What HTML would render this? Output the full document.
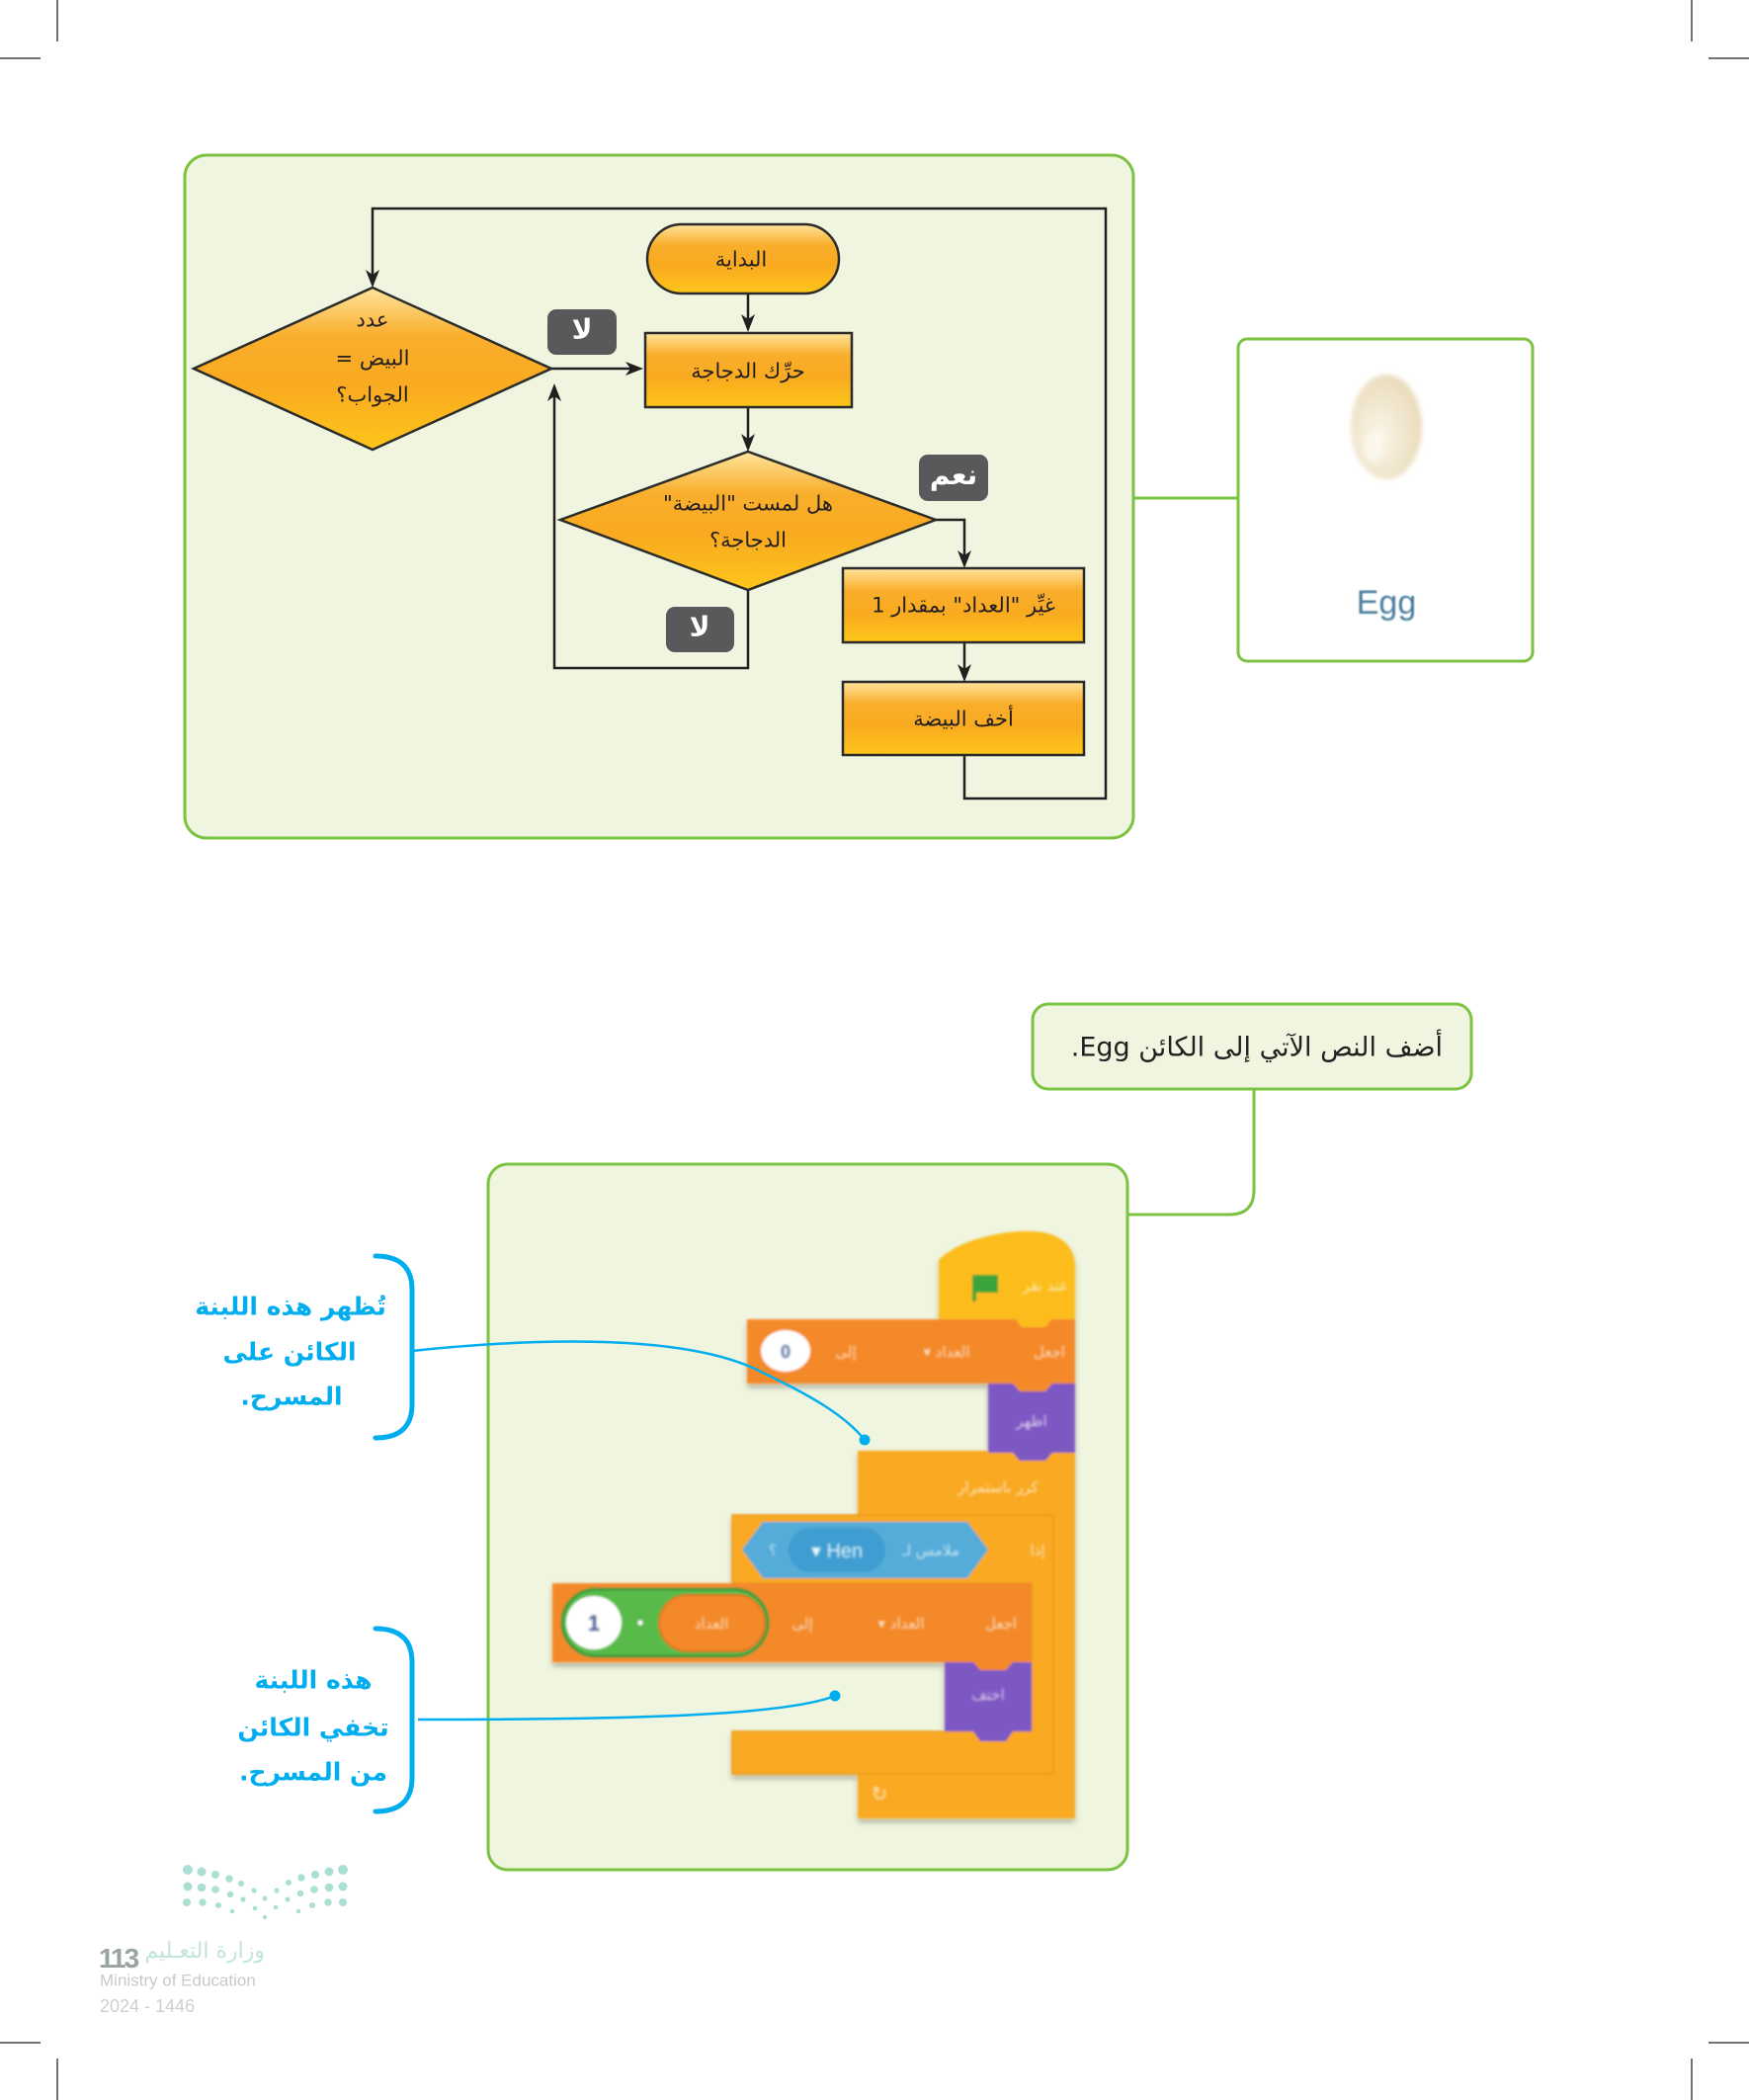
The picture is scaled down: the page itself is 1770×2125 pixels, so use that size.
<!DOCTYPE html>
<html lang="ar">
<head>
<meta charset="utf-8">
<style>
  html,body{margin:0;padding:0;background:#fff;}
  body{width:1770px;height:2125px;position:relative;overflow:hidden;}
  svg.bg{position:absolute;left:0;top:0;}
  .t{position:absolute;transform:translate(-50%,-50%);white-space:nowrap;line-height:1;direction:rtl;}
  .fc{font-family:"DejaVu Sans",sans-serif;font-size:21px;color:#231f20;}
  .bd{font-family:"DejaVu Sans",sans-serif;font-size:28px;font-weight:bold;color:#fff;}
  .bl{font-family:"DejaVu Sans",sans-serif;font-size:25px;font-weight:bold;color:#00aeef;}
</style>
</head>
<body>
<svg class="bg" width="1770" height="2125" viewBox="0 0 1770 2125" xmlns="http://www.w3.org/2000/svg">
  <defs>
    <linearGradient id="og" x1="0" y1="0" x2="0" y2="1">
      <stop offset="0" stop-color="#ffe49c"/>
      <stop offset="0.3" stop-color="#f9ae2c"/>
      <stop offset="0.6" stop-color="#f9aa20"/>
      <stop offset="1" stop-color="#fdc61a"/>
    </linearGradient>
    <radialGradient id="eg" cx="0.4" cy="0.6" r="0.6">
      <stop offset="0" stop-color="#fbf6ea"/>
      <stop offset="0.5" stop-color="#f3e9d3"/>
      <stop offset="1" stop-color="#eadcbc"/>
    </radialGradient>
    <filter id="blur2" x="-30%" y="-30%" width="160%" height="160%"><feGaussianBlur stdDeviation="2.5"/></filter>
    <filter id="blur1" x="-10%" y="-10%" width="120%" height="120%"><feGaussianBlur stdDeviation="1"/></filter>
    <filter id="blurT" x="-20%" y="-50%" width="140%" height="200%"><feGaussianBlur stdDeviation="1.3"/></filter>
    <filter id="sh" x="-5%" y="-10%" width="110%" height="130%">
      <feGaussianBlur in="SourceAlpha" stdDeviation="3"/>
      <feOffset dy="4"/>
      <feComponentTransfer><feFuncA type="linear" slope="0.28"/></feComponentTransfer>
      <feMerge><feMergeNode/><feMergeNode in="SourceGraphic"/></feMerge>
    </filter>
  </defs>

  <!-- crop marks -->
  <g stroke="#444" stroke-width="1.5">
    <line x1="58" y1="0" x2="58" y2="42"/>
    <line x1="0" y1="59" x2="41" y2="59"/>
    <line x1="1712" y1="0" x2="1712" y2="42"/>
    <line x1="1729" y1="59" x2="1770" y2="59"/>
    <line x1="0" y1="2067" x2="41" y2="2067"/>
    <line x1="58" y1="2083" x2="58" y2="2125"/>
    <line x1="1729" y1="2067" x2="1770" y2="2067"/>
    <line x1="1712" y1="2083" x2="1712" y2="2125"/>
  </g>

  <!-- top panel -->
  <rect x="187" y="157" width="960" height="691" rx="22" fill="#eff5df" stroke="#7cc243" stroke-width="3"/>
  <line x1="1147" y1="504" x2="1253" y2="504" stroke="#7cc243" stroke-width="3"/>
  <rect x="1253" y="343" width="298" height="326" rx="9" fill="#fff" stroke="#7cc243" stroke-width="3"/>
  <ellipse cx="1403" cy="432" rx="36" ry="53" fill="url(#eg)" filter="url(#blur2)"/>
  <ellipse cx="1390" cy="452" rx="10" ry="16" fill="#fdfaf2" opacity="0.7" filter="url(#blur2)"/>

  <!-- flowchart connectors -->
  <g fill="none" stroke="#231f20" stroke-width="2.5">
    <polyline points="976,764 976,808 1119,808 1119,211 377,211 377,279"/>
    <line x1="757" y1="297" x2="757" y2="325"/>
    <line x1="558" y1="373" x2="640" y2="373"/>
    <line x1="757" y1="412" x2="757" y2="446"/>
    <polyline points="947,526 976,526 976,564"/>
    <line x1="976" y1="650" x2="976" y2="679"/>
    <polyline points="757,597 757,676 561,676 561,400"/>
  </g>
  <g fill="#231f20">
    <polygon points="377,291 370,273 377,278 384,273"/>
    <polygon points="757,336 750,318 757,323 764,318"/>
    <polygon points="651,373 633,366 638,373 633,380"/>
    <polygon points="757,457 750,439 757,444 764,439"/>
    <polygon points="976,575 969,557 976,562 983,557"/>
    <polygon points="976,690 969,672 976,677 983,672"/>
    <polygon points="561,388 554,406 561,401 568,406"/>
  </g>

  <!-- flowchart shapes -->
  <g stroke="#2b2b2b" stroke-width="2.5" fill="url(#og)">
    <polygon points="196,373 377,291 558,373 377,455"/>
    <rect x="655" y="227" width="194" height="70" rx="35"/>
    <rect x="653" y="337" width="209" height="75"/>
    <polygon points="567,526 757,457 947,526 757,597"/>
    <rect x="853" y="575" width="244" height="75"/>
    <rect x="853" y="690" width="244" height="74"/>
  </g>

  <!-- badges -->
  <rect x="554" y="313" width="70" height="46" rx="9" fill="#58595b"/>
  <rect x="930" y="460" width="70" height="47" rx="9" fill="#58595b"/>
  <rect x="674" y="614" width="69" height="46" rx="9" fill="#58595b"/>

  <!-- lower callout -->
  <rect x="494" y="1178" width="647" height="714" rx="20" fill="#eff5df" stroke="#7cc243" stroke-width="3"/>
  <rect x="1045" y="1016" width="444" height="86" rx="16" fill="#eff5df" stroke="#7cc243" stroke-width="3"/>
  <path d="M1269,1102 L1269,1204 Q1269,1229 1244,1229 L1141,1229" fill="none" stroke="#7cc243" stroke-width="3"/>

  <!-- scratch blocks -->
  <g filter="url(#blur1)">
    <g filter="url(#sh)">
      <path d="M868,1468 L1088,1468 L1088,1840 L868,1840 L868,1795 L1066,1795 L1066,1533 L868,1533 Z" fill="#f9a923"/>
      <path d="M741,1533 L1066,1533 L1066,1795 L741,1795 L741,1752 L1044,1752 L1044,1602 L741,1602 Z" fill="#f9a923" stroke="#eb9a1c" stroke-width="1.5"/>
      <path d="M950,1338 L950,1275 C968,1256 1010,1245 1045,1246 C1072,1247 1088,1260 1088,1282 L1088,1338 Z" fill="#fcbd1c"/>
      <path d="M756,1335 L1028,1335 L1034,1343 L1058,1343 L1064,1335 L1088,1335 L1088,1400 L1065,1400 L1058,1408 L1032,1408 L1025,1400 L756,1400 Z" fill="#f4892b"/>
      <path d="M1028,1335 L1034,1343 L1058,1343 L1064,1335 Z" fill="#fcbd1c"/>
      <path d="M1000,1400 L1025,1400 L1032,1408 L1058,1408 L1065,1400 L1088,1400 L1088,1470 L1065,1470 L1058,1478 L1032,1478 L1025,1470 L1000,1470 Z" fill="#7d58c3"/>
      <path d="M559,1602 L1044,1602 L1044,1682 L1025,1682 L1018,1690 L992,1690 L985,1682 L559,1682 Z" fill="#f4892b"/>
      <path d="M956,1682 L985,1682 L992,1690 L1018,1690 L1025,1682 L1044,1682 L1044,1752 L1025,1752 L1018,1762 L992,1762 L985,1752 L956,1752 Z" fill="#7d58c3"/>
    </g>
    <polygon points="751,1568 772,1540 979,1540 1000,1568 979,1597 772,1597" fill="#55acd9"/>
    <rect x="798" y="1546" width="98" height="45" rx="22.5" fill="#3f9dd1"/>
    <rect x="569" y="1608" width="208" height="68" rx="34" fill="#58bb48" stroke="#3b983a" stroke-width="3"/>
    <ellipse cx="601" cy="1642" rx="28" ry="27" fill="#fff"/>
    <rect x="667" y="1614" width="107" height="57" rx="28.5" fill="#f4892b" stroke="#d9731c" stroke-width="2"/>
    <circle cx="648" cy="1642" r="2.5" fill="#fff"/>
    <ellipse cx="795" cy="1367" rx="25" ry="21" fill="#fff"/>
    <path d="M984,1290 L1010,1290 L1010,1308 L988,1308 L988,1317 L984,1317 Z" fill="#3aa33a"/>
  </g>
  <g filter="url(#blurT)">
    <g font-family="DejaVu Sans, sans-serif" fill="#fff" opacity="0.7" font-size="15" text-anchor="middle">
      <text x="1058" y="1306">عند نقر</text>
      <text x="1062" y="1373">اجعل</text>
      <text x="958" y="1373">▾ العداد</text>
      <text x="856" y="1373">إلى</text>
      <text x="1044" y="1443">اظهر</text>
      <text x="1010" y="1510">كرر باستمرار</text>
      <text x="1050" y="1574">إذا</text>
      <text x="942" y="1574">ملامس لـ</text>
      <text x="782" y="1574">؟</text>
      <text x="1013" y="1648">اجعل</text>
      <text x="912" y="1648">▾ العداد</text>
      <text x="812" y="1648">إلى</text>
      <text x="720" y="1648">العداد</text>
      <text x="1000" y="1720">اختف</text>
      <text x="890" y="1822" font-size="20">↻</text>
    </g>
    <text x="847" y="1576" font-family="Liberation Sans, sans-serif" font-size="20" fill="#fff" opacity="0.9" text-anchor="middle">▾ Hen</text>
    <text x="795" y="1374" font-family="Liberation Sans, sans-serif" font-size="18" font-weight="bold" fill="#5a6f9a" text-anchor="middle">0</text>
    <text x="601" y="1650" font-family="Liberation Sans, sans-serif" font-size="22" font-weight="bold" fill="#4a5f8a" text-anchor="middle">1</text>
  </g>

  <!-- blue annotation -->
  <g fill="none" stroke="#00aeef" stroke-width="5" stroke-linecap="round">
    <path d="M380,1271 Q417,1271 417,1305 L417,1421 Q417,1455 380,1455"/>
    <path d="M380,1648 Q417,1648 417,1682 L417,1799 Q417,1833 380,1833"/>
  </g>
  <g fill="none" stroke="#00aeef" stroke-width="2.5">
    <path d="M417,1367 C560,1352 700,1352 770,1388 C820,1412 855,1432 875,1457"/>
    <path d="M423,1740 C600,1740 790,1738 845,1716"/>
  </g>
  <circle cx="875" cy="1457" r="5.5" fill="#00aeef"/>
  <circle cx="845" cy="1716" r="5.5" fill="#00aeef"/>

  <!-- logo dots -->
  <g fill="#a9e0d3">
    <circle cx="190" cy="1892" r="5"/><circle cx="204" cy="1894" r="4.5"/><circle cx="218" cy="1897" r="4"/><circle cx="232" cy="1901" r="3.7"/><circle cx="244" cy="1906" r="3"/>
    <circle cx="347" cy="1892" r="5"/><circle cx="333" cy="1894" r="4.5"/><circle cx="319" cy="1897" r="4"/><circle cx="305" cy="1900" r="3.7"/><circle cx="292" cy="1905" r="3"/>
    <circle cx="190" cy="1909" r="4.5"/><circle cx="204" cy="1910" r="4.3"/><circle cx="218" cy="1912" r="3.8"/><circle cx="233" cy="1917" r="3.2"/><circle cx="257" cy="1913" r="2.6"/>
    <circle cx="347" cy="1909" r="4.5"/><circle cx="333" cy="1910" r="4.3"/><circle cx="318" cy="1912" r="3.8"/><circle cx="304" cy="1916" r="3.2"/><circle cx="280" cy="1913" r="2.6"/>
    <circle cx="189" cy="1925" r="4"/><circle cx="205" cy="1925" r="3.7"/><circle cx="221" cy="1928" r="3"/><circle cx="235" cy="1934" r="2.3"/><circle cx="246" cy="1922" r="2.6"/>
    <circle cx="258" cy="1931" r="2.3"/><circle cx="268" cy="1921" r="2.4"/><circle cx="268" cy="1940" r="2.2"/><circle cx="279" cy="1930" r="2.3"/><circle cx="291" cy="1922" r="2.6"/>
    <circle cx="302" cy="1934" r="2.3"/><circle cx="316" cy="1928" r="3"/><circle cx="332" cy="1925" r="3.7"/><circle cx="347" cy="1925" r="4"/>
  </g>
</svg>

<!-- flowchart text -->
<div class="t fc" style="left:750px;top:263px">البداية</div>
<div class="t fc" style="left:757px;top:376px">حرِّك الدجاجة</div>
<div class="t fc" style="left:377px;top:324px">عدد</div>
<div class="t fc" style="left:377px;top:363px">البيض =</div>
<div class="t fc" style="left:377px;top:400px">الجواب؟</div>
<div class="t fc" style="left:757px;top:510px">هل لمست "البيضة"</div>
<div class="t fc" style="left:757px;top:547px">الدجاجة؟</div>
<div class="t fc" style="left:975px;top:613px">غيِّر "العداد" بمقدار 1</div>
<div class="t fc" style="left:975px;top:728px">أخف البيضة</div>

<div class="t bd" style="left:589px;top:334px">لا</div>
<div class="t bd" style="left:965px;top:481px">نعم</div>
<div class="t bd" style="left:708px;top:635px">لا</div>

<!-- Egg label -->
<div class="t" style="left:1403px;top:610px;font-family:'Liberation Sans',sans-serif;font-size:34px;color:#4a7e9e;direction:ltr;filter:blur(0.8px);">Egg</div>

<!-- callout text -->
<div style="position:absolute;right:310px;top:1060px;transform:translateY(-50%);direction:rtl;white-space:nowrap;font-family:'DejaVu Sans',sans-serif;font-size:27px;color:#231f20;line-height:1;">أضف النص الآتي إلى الكائن Egg.</div>

<!-- blue annotation text -->
<div class="t bl" style="left:294px;top:1322px">تُظهر هذه اللبنة</div>
<div class="t bl" style="left:293px;top:1368px">الكائن على</div>
<div class="t bl" style="left:295px;top:1413px">المسرح.</div>

<div class="t bl" style="left:317px;top:1700px">هذه اللبنة</div>
<div class="t bl" style="left:317px;top:1748px">تخفي الكائن</div>
<div class="t bl" style="left:317px;top:1793px">من المسرح.</div>

<!-- footer -->
<div style="position:absolute;right:1502px;top:1975px;transform:translateY(-50%);direction:rtl;white-space:nowrap;font-family:'DejaVu Sans',sans-serif;font-size:22px;color:#bfe5dc;line-height:1;">وزارة التعـليم</div>
<div style="position:absolute;left:100px;top:1982px;transform:translateY(-50%);font-family:'Liberation Sans',sans-serif;font-size:28px;font-weight:bold;color:#9aa3a3;line-height:1;letter-spacing:-2px;">113</div>
<div style="position:absolute;left:101px;top:2004px;transform:translateY(-50%);font-family:'Liberation Sans',sans-serif;font-size:17px;color:#c6caca;line-height:1;white-space:nowrap;">Ministry of Education</div>
<div style="position:absolute;left:101px;top:2030px;transform:translateY(-50%);font-family:'Liberation Sans',sans-serif;font-size:18px;color:#cdd0d0;line-height:1;white-space:nowrap;">2024 - 1446</div>
</body>
</html>
